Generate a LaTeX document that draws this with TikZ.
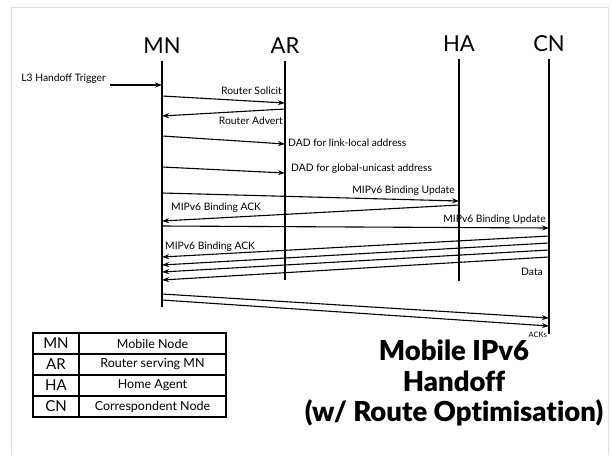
\documentclass[tikz,border=0pt]{standalone}
\usepackage{fontspec}
\setmainfont{Lato}
\newfontfamily\titlefont[Ligatures=NoCommon]{Lato Black}
\usetikzlibrary{arrows.meta}
\begin{document}
\begin{tikzpicture}[x=1pt,y=-1pt,
  msg/.style={line width=1.1pt,-{Stealth[length=7pt,width=5pt]}},
  life/.style={line width=1.4pt},
  head/.style={font=\fontsize{22}{24}\selectfont, anchor=base, inner sep=0pt},
  lbl/.style={font=\fontsize{10.3}{12}\selectfont, inner sep=0pt},
  cell/.style={draw, line width=1.2pt, minimum height=21pt, inner sep=0pt, font=\fontsize{12.5}{14}\selectfont},
  abbr/.style={cell, minimum width=46pt, font=\fontsize{15}{17}\selectfont},
  desc/.style={cell, minimum width=147pt},
  title/.style={font=\fontsize{27.5}{30.5}\selectfont\titlefont, align=center, inner sep=0pt}
  ]
\useasboundingbox (0,0) rectangle (612,455);
\draw[black!12, line width=1pt] (11,455) -- (11,7) -- (608,7) -- (608,455);

% headers
\node[head] (MNh) at (162,53) {MN};
\node[head] (ARh) at (285,53) {AR};
\node[head] (HAh) at (459,51) {HA};
\node[head] (CNh) at (549,51) {CN};

% lifelines
\coordinate (MN) at (162,61);  \coordinate (MNb) at (162,307);
\coordinate (AR) at (285,61);  \coordinate (ARb) at (285,280);
\coordinate (HA) at (459,59);  \coordinate (HAb) at (459,281);
\coordinate (CN) at (549,59);  \coordinate (CNb) at (549,334);
\draw[life] (MN) -- (MNb);
\draw[life] (AR) -- (ARb);
\draw[life] (HA) -- (HAb);
\draw[life] (CN) -- (CNb);

% trigger
\node[lbl, anchor=base east] (trig) at (106,81.5) {L3 Handoff Trigger};
\draw[msg] ([xshift=4pt,yshift=-3.5pt]trig.base east) coordinate (trigS) -- (MN |- trigS);

% router solicit / advert
\draw[msg] (MN |- 0,96) -- (AR |- 0,103);
\node[lbl, anchor=base east] (rs) at (282,94.5) {Router Solicit};
\draw[msg] (AR |- 0,109) -- (MN |- 0,116);
\node[lbl, anchor=base east] (ra) at (283,124.5) {Router Advert};

% DAD
\draw[msg] (MN |- 0,136) -- (AR |- 0,144);
\node[lbl, anchor=base west] (dad1) at (288,146) {DAD for link-local address};
\draw[msg] (MN |- 0,167) -- (AR |- 0,173);
\node[lbl, anchor=base west] (dad2) at (291,171) {DAD for global-unicast address};

% Binding with HA
\draw[msg] (MN |- 0,193) -- (HA |- 0,201);
\node[lbl, anchor=base east] (bu1) at (455,193) {MIPv6 Binding Update};
\draw[msg] (HA |- 0,205) -- (MN |- 0,221);
\node[lbl, anchor=base west] (ba1) at (171,210) {MIPv6 Binding ACK};

% Binding with CN
\draw[msg] (MN |- 0,226) -- (CN |- 0,228);
\node[lbl, anchor=base east] (bu2) at (546,222) {MIPv6 Binding Update};
\draw[msg] (CN |- 0,236) -- (MN |- 0,257);
\node[lbl, anchor=base west] (ba2) at (165,249) {MIPv6 Binding ACK};

% data
\draw[msg] (CN |- 0,243) -- (MN |- 0,265);
\draw[msg] (CN |- 0,250) -- (MN |- 0,272);
\draw[msg] (CN |- 0,257) -- (MN |- 0,280);
\node[lbl, anchor=base east] (data) at (543,275.5) {Data};

% ACKs
\draw[msg] (MN |- 0,294) -- (CN |- 0,318);
\draw[msg] (MN |- 0,300) -- (CN |- 0,326);
\node[lbl, anchor=base east, font=\fontsize{7.5}{8}\selectfont] (acks) at (547,337) {ACKs};

% table
\node[abbr] (t1a) at (56,343.5) {MN};
\node[desc] (t1b) at (152.5,343.5) {Mobile Node};
\node[abbr] (t2a) at (56,364.5) {AR};
\node[desc] (t2b) at (152.5,364.5) {Router serving MN};
\node[abbr] (t3a) at (56,385.5) {HA};
\node[desc] (t3b) at (152.5,385.5) {Home Agent};
\node[abbr] (t4a) at (56,406.5) {CN};
\node[desc] (t4b) at (152.5,406.5) {Correspondent Node};

% title
\node[title, anchor=north] (ttl) at (454,340) {Mobile IPv6\\Handoff\\(w/ Route Opt\kern0pt imisation)};
\end{tikzpicture}
\end{document}
